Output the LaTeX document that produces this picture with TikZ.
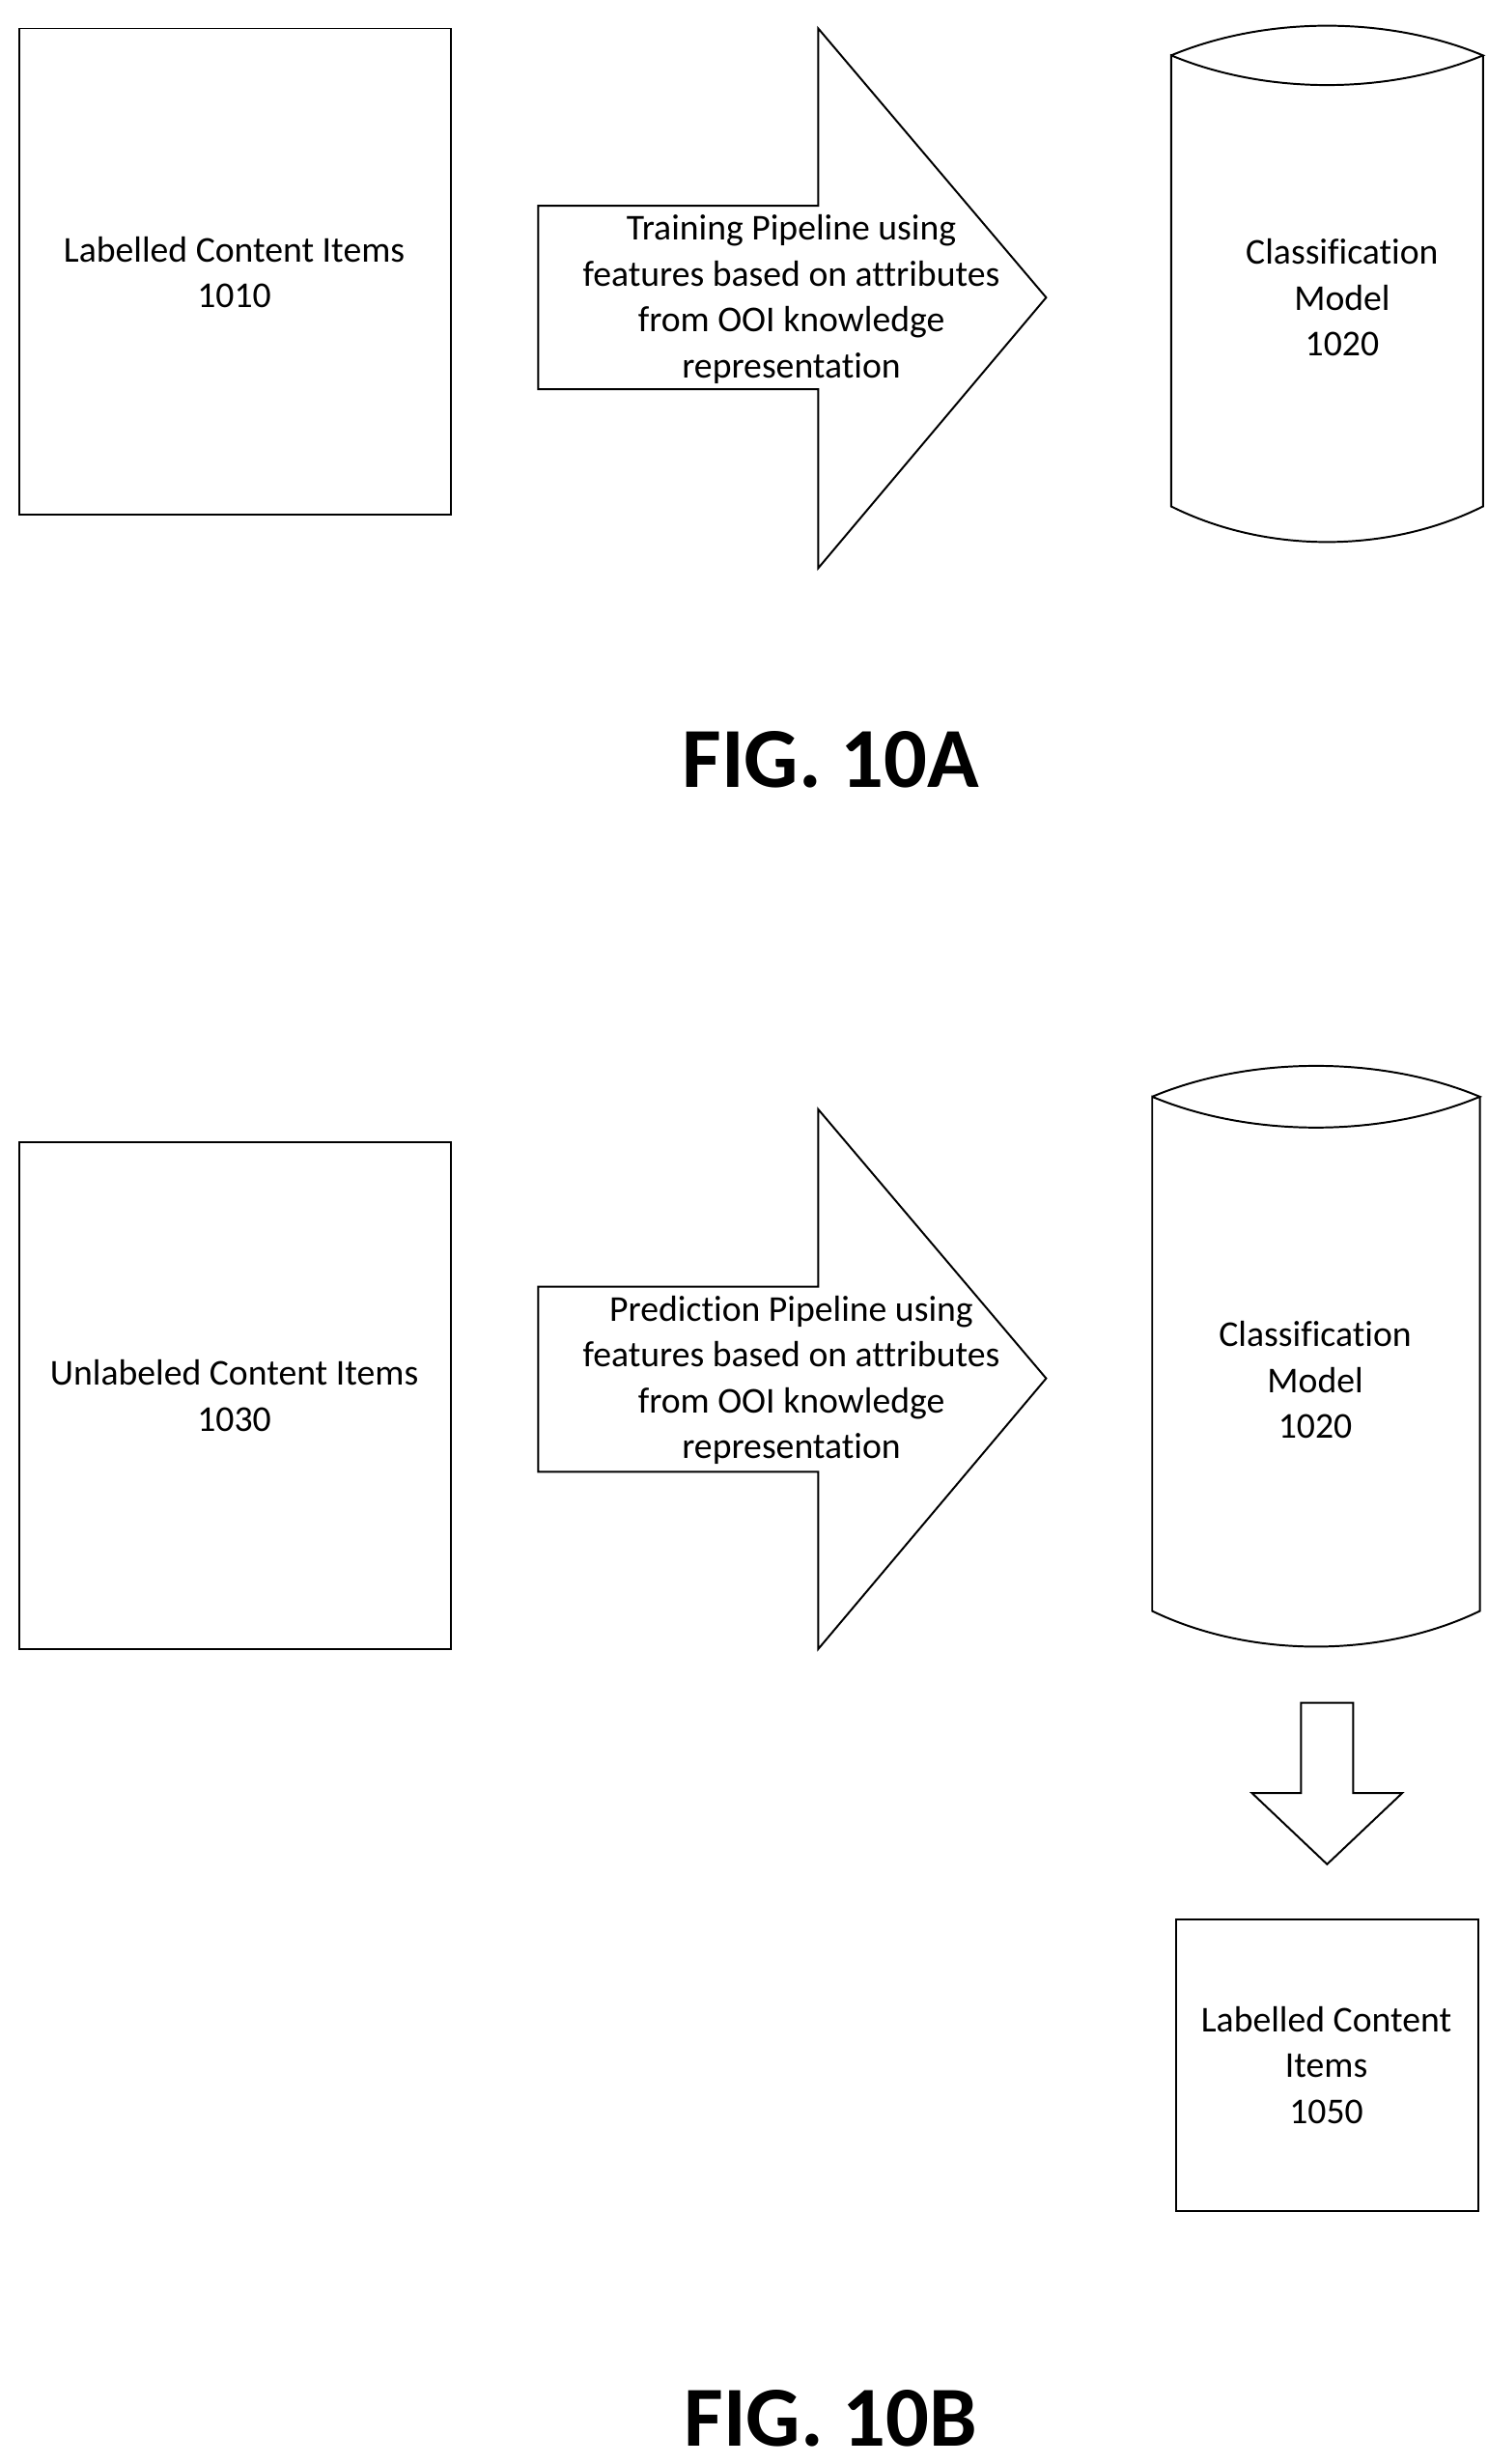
\documentclass[tikz,border=0pt]{standalone}
\usepackage{fontspec}
\setmainfont{Carlito}[Ligatures=NoCommon]
\begin{document}
\begin{tikzpicture}[x=0.5pt,y=-0.5pt,line width=0.6pt,
  lbl/.style={align=center,font=\fontsize{11.5}{14.5}\selectfont},
  fig/.style={font=\fontsize{27}{29}\selectfont\bfseries}]
\useasboundingbox (0,0) rectangle (940,1557);
% FIG 10A
\draw (12,18) rectangle (285,325);
\node[lbl] (t1) at (148,172) {Labelled Content Items\\1010};
\draw (340,130) -- (517,130) -- (517,18) -- (661,188) -- (517,359) -- (517,246) -- (340,246) -- cycle;
\node[lbl] (t2) at (500,189) {Training Pipeline using\\features based on attributes\\from OOI knowledge\\representation};
\draw (740,35) .. controls (800,10) and (877,10) .. (937,35)
      .. controls (877,60) and (800,60) .. (740,35) -- (740,320)
      .. controls (800,350) and (877,350) .. (937,320) -- (937,35);
\node[lbl] (t3) at (848,188) {Classification\\Model\\1020};
\node[fig] (f1) at (525,480) {FIG. 10A};
% FIG 10B
\draw (12,722) rectangle (285,1042);
\node[lbl] (t4) at (148,882) {Unlabeled Content Items\\1030};
\draw (340,813) -- (517,813) -- (517,701) -- (661,871) -- (517,1042) -- (517,930) -- (340,930) -- cycle;
\node[lbl] (t5) at (500,872) {Prediction Pipeline using\\features based on attributes\\from OOI knowledge\\representation};
\draw (728,693) .. controls (790,667) and (873,667) .. (935,693)
      .. controls (873,719) and (790,719) .. (728,693) -- (728,1018)
      .. controls (790,1048) and (873,1048) .. (935,1018) -- (935,693);
\node[lbl] (t6) at (831,872) {Classification\\Model\\1020};
\draw (822,1076) -- (855,1076) -- (855,1133) -- (886,1133) -- (838.5,1178) -- (791,1133) -- (822,1133) -- cycle;
\draw (743,1213) rectangle (934,1397);
\node[lbl] (t7) at (838,1305) {Labelled Content\\Items\\1050};
\node[fig] (f2) at (525,1528) {FIG. 10B};
\end{tikzpicture}
\end{document}
